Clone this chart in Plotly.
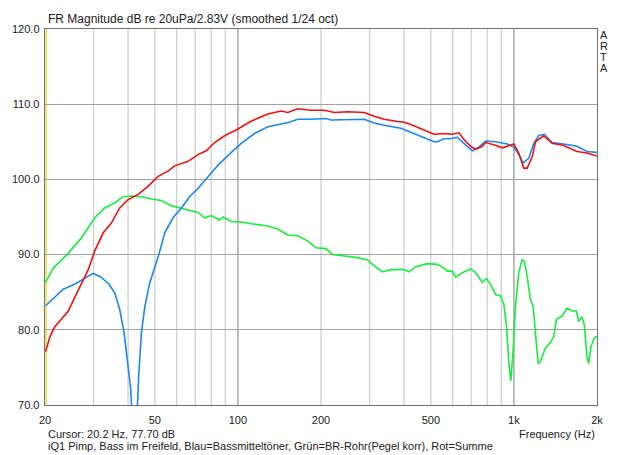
import plotly.graph_objects as go

# ---- data ----
green_f = [20.1, 21.4, 24.3, 27.1, 30.3, 32.9, 35.8, 38.4, 41.2, 44.7, 48.6, 52.8, 57.4, 62.4, 67.8,
           71.7, 75.7, 80.1, 85.8, 88.3, 94.6, 104.3, 111.7, 128.4, 139.5, 151.6, 164.7, 179.1, 191.8,
           208.4, 220.4, 242.8, 271.5, 295.0, 311.7, 334.2, 358.1, 400.0, 417.0, 440.9, 486.0, 528.2,
           558.0, 574.1, 598.5, 615.2, 650.3, 696.9, 726.5, 768.1, 796.1, 823.1, 858.0, 894.4, 919.3,
           940.2, 958.4, 974.4, 994.1, 1013, 1041, 1071, 1092, 1117, 1148, 1174, 1197, 1224, 1248,
           1301, 1356, 1394, 1425, 1494, 1557, 1623, 1683, 1716, 1765, 1799, 1840, 1865, 1902, 1955, 2000]
green_db = [86.3, 88.2, 90.2, 92.2, 94.9, 96.2, 96.9, 97.7, 97.8, 97.7, 97.4, 97.2, 96.5, 96.2, 95.8,
            95.6, 94.9, 95.2, 94.6, 95.0, 94.4, 94.3, 94.1, 93.8, 93.4, 92.6, 92.5, 91.8, 90.9,
            90.8, 90.0, 89.8, 89.6, 89.3, 88.5, 87.7, 88.0, 88.0, 87.7, 88.4, 88.8, 88.7,
            88.2, 87.8, 87.8, 87.0, 87.6, 88.1, 87.6, 86.3, 86.8, 86.0, 84.7, 84.5, 83.4,
            80.5, 75.6, 73.2, 77.4, 83.1, 87.6, 89.3, 89.1, 87.1, 84.0, 83.1, 79.6, 75.5, 75.8,
            77.6, 78.3, 79.1, 81.4, 81.8, 82.9, 82.5, 82.5, 81.1, 81.7, 80.7, 76.3, 75.5, 77.8, 78.9, 79.1]

blue_f = [20.1, 21.7, 23.3, 25.7, 27.9, 29.9, 31.6, 33.9, 35.8, 37.3, 38.7, 39.8, 40.9, 42.2, 43.7,
          44.7, 46.0, 47.9, 49.9, 51.7, 54.3, 58.2, 62.4, 66.8, 71.7, 77.9, 84.7, 94.0, 102.8, 114.8,
          128.4, 153.6, 164.7, 184.1, 208.4, 217.3, 249.8, 286.8, 311.7, 338.7, 389.1, 434.7, 472.4,
          499.5, 513.5, 528.2, 558.0, 586.6, 623.8, 659.1, 706.8, 746.7, 789.5, 858.0, 945.7, 999.1,
          1041, 1080, 1132, 1180, 1230, 1290, 1375, 1514, 1693, 1840, 2000]
blue_db = [83.2, 84.4, 85.4, 86.1, 86.9, 87.5, 87.1, 86.2, 84.9, 82.7, 79.6, 76.0, 72.1, 61.0, 73.8,
           79.6, 83.1, 86.2, 88.2, 90.0, 92.9, 94.9, 96.2, 97.7, 98.8, 100.4, 101.9, 103.5, 104.8, 106.1,
           107.0, 107.6, 108.0, 108.0, 108.1, 107.9, 108.0, 108.0, 107.5, 107.2, 106.8, 106.1, 105.6,
           105.2, 105.0, 105.0, 105.4, 105.4, 105.6, 104.8, 103.8, 104.3, 105.1, 105.0, 104.7, 104.3,
           103.3, 102.2, 102.8, 104.8, 105.8, 106.0, 104.9, 104.7, 104.4, 103.7, 103.6]

red_f = [20.1, 20.85, 21.7, 22.97, 24.3, 25.7, 27.1, 28.7, 30.3, 32.5, 34.8, 37.3, 40.0, 43.5, 47.3,
         51.4, 55.8, 59.0, 66.0, 71.7, 76.8, 82.3, 89.5, 100.0, 111.0, 128.4, 143.4, 151.6, 164.7,
         184.1, 205.6, 223.4, 249.8, 286.8, 311.7, 338.7, 378.6, 400.0, 422.9, 472.4, 513.5, 558.0,
         598.5, 632.2, 659.1, 696.9, 726.5, 768.1, 789.5, 845.9, 907.3, 999.1, 1041, 1086, 1117,
         1165, 1197, 1282, 1375, 1514, 1693, 1840, 2000]
red_db = [77.1, 79.1, 80.4, 81.4, 82.5, 84.4, 86.2, 88.0, 90.5, 92.9, 94.2, 96.2, 97.3, 98.0, 99.1,
          100.4, 101.1, 101.8, 102.4, 103.3, 103.8, 104.9, 105.8, 106.7, 107.7, 108.7, 109.1, 108.9, 109.4,
          109.2, 109.2, 108.9, 109.0, 108.9, 108.4, 108.0, 107.7, 107.6, 107.3, 106.6, 106.0, 106.1,
          106.0, 106.2, 105.3, 104.4, 104.0, 104.4, 104.9, 104.6, 104.2, 104.7, 103.5, 101.5, 101.5,
          103.0, 105.0, 105.8, 104.8, 104.5, 103.7, 103.5, 103.1]

x_tick_vals = [20, 50, 100, 200, 500, 1000, 2000]
x_tick_text = ["20", "50", "100", "200", "500", "1k", "2k"]
y_tick_vals = [70, 80, 90, 100, 110, 120]
minor_grid = [30, 40, 50, 60, 70, 80, 90, 200, 300, 400, 500, 600, 700, 800, 900]
major_grid = [100, 1000]
cursor_f = 20.2

FONT = "Liberation Sans, Arial, sans-serif"

fig = go.Figure()
fig.add_trace(go.Scatter(x=green_f, y=green_db, mode="lines",
                         line=dict(color="#14ee3c", width=1.6), hoverinfo="skip"))
fig.add_trace(go.Scatter(x=blue_f, y=blue_db, mode="lines",
                         line=dict(color="#1a88f0", width=1.6), hoverinfo="skip"))
fig.add_trace(go.Scatter(x=red_f, y=red_db, mode="lines",
                         line=dict(color="#f01010", width=1.6), hoverinfo="skip"))

shapes = []
for g in minor_grid:
    shapes.append(dict(type="line", xref="x", yref="paper", x0=g, x1=g, y0=0, y1=1,
                       line=dict(color="#cfcfcf", width=1.3), layer="below"))
for g in major_grid:
    shapes.append(dict(type="line", xref="x", yref="paper", x0=g, x1=g, y0=0, y1=1,
                       line=dict(color="#999999", width=1.3), layer="below"))
shapes.append(dict(type="line", xref="x", yref="paper", x0=cursor_f, x1=cursor_f, y0=0, y1=1,
                   line=dict(color="#e8e040", width=1.5), layer="below"))

W, H = 640, 455
L, R, T, B = 43, 43, 29, 50
pw, ph = W - L - R, H - T - B


def px(xp):
    return (xp - L) / pw


def py(yp):
    return (H - B - yp) / ph


ann = [
    dict(text="FR Magnitude dB re 20uPa/2.83V (smoothed 1/24 oct)", x=px(44), y=py(19),
         xanchor="left", yanchor="middle", font=dict(size=12)),
    dict(text="Cursor: 20.2 Hz, 77.70 dB", x=px(44), y=py(434),
         xanchor="left", yanchor="middle", font=dict(size=11)),
    dict(text="Frequency (Hz)", x=px(597), y=py(434),
         xanchor="right", yanchor="middle", font=dict(size=11)),
    dict(text="iQ1 Pimp, Bass im Freifeld, Blau=Bassmitteltöner, Grün=BR-Rohr(Pegel korr), Rot=Summe",
         x=px(44), y=py(446), xanchor="left", yanchor="middle", font=dict(size=11)),
]
for i, ch in enumerate("ARTA"):
    ann.append(dict(text=ch, x=px(604), y=py(35 + 11 * i), xanchor="center", yanchor="middle",
                    font=dict(size=11)))
for a in ann:
    a.update(xref="paper", yref="paper", showarrow=False)
    a["font"].update(family=FONT, color="#202020")

fig.update_layout(
    width=W, height=H,
    margin=dict(l=L, r=R, t=T, b=B, pad=0),
    paper_bgcolor="white", plot_bgcolor="white",
    showlegend=False,
    shapes=shapes,
    annotations=ann,
    font=dict(family=FONT, size=11, color="#202020"),
    xaxis=dict(type="log", range=[1.30103, 3.30103], tickvals=x_tick_vals, ticktext=x_tick_text,
               showgrid=False, showline=True, linecolor="#707070", linewidth=1.3, mirror=True,
               ticks="", zeroline=False, tickfont=dict(size=11), ticklabelstandoff=4),
    yaxis=dict(range=[70, 120], tickvals=y_tick_vals, tickformat=".1f",
               showgrid=True, gridcolor="#a0a0a0", gridwidth=1.3,
               showline=True, linecolor="#707070", linewidth=1.3, mirror=True,
               ticks="", zeroline=False, tickfont=dict(size=11), ticklabelstandoff=2),
)

fig.write_html("out.html", config={"displayModeBar": False, "staticPlot": True},
               post_script="document.body.style.margin='0';document.body.style.overflow='hidden';")
